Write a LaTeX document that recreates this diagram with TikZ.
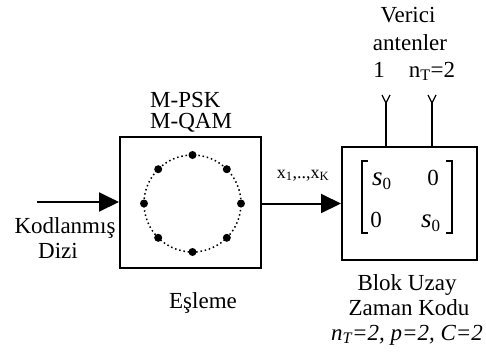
\documentclass[tikz,border=0pt]{standalone}
\usepackage{fontspec}
\setmainfont{Liberation Serif}
\usetikzlibrary{arrows.meta,calc}
\begin{document}
\begin{tikzpicture}[x=1pt,y=-1pt,
  txt/.style={inner sep=0pt, anchor=base, font=\fontsize{23}{27}\selectfont},
  boxs/.style={draw, line width=2pt, inner sep=0pt},
  conn/.style={line width=2pt, -{Triangle[length=20pt,width=19pt]}},
  cdot/.style={circle, fill, inner sep=0pt, minimum size=8pt},
  brk/.style={line width=1.3pt}]
\newcommand{\sz}{{\fontsize{27}{27}\selectfont\itshape s}\raisebox{-4pt}{\fontsize{17}{17}\selectfont 0}}
\useasboundingbox (0,0) rectangle (486,351);
% boxes
\node[boxs, minimum width=141pt, minimum height=131pt] (lbox) at (190.5,202.5) {};
\node[boxs, minimum width=135pt, minimum height=113pt] (rbox) at (409.5,203.5) {};
% constellation
\coordinate (cc) at (192.5,203.5);
\draw[line width=1.5pt, dash pattern=on 1.5pt off 2.8pt] (cc) circle[radius=48.5pt];
\foreach \a [count=\i] in {0,45,...,315}{
  \node[cdot] (d\i) at ($(cc)+(\a:48.5pt)$) {};
}
% input arrow
\coordinate (inp) at (37,202);
\draw[conn] (inp) -- (lbox.west |- inp);
% middle arrow
\draw[conn] (lbox.east |- rbox.center) -- (rbox.west);
\node[txt, font=\fontsize{18}{20}\selectfont] (xlab) at (303,178) {x\textsubscript{1},..,x\textsubscript{K}};
% antennas
\coordinate (a1) at (386,103);
\coordinate (a2) at (432,103);
\foreach \c in {a1,a2}{
  \draw[line width=2pt] (\c) -- (\c |- rbox.north);
  \draw[line width=1.3pt] (\c) -- ++(-4,-8);
  \draw[line width=1.3pt] (\c) -- ++(4,-8);
}
% matrix brackets
\draw[brk] (368,161) -- (362,161) -- (362,233) -- (368,233);
\draw[brk] (446,161) -- (452,161) -- (452,233) -- (446,233);
\node[txt, anchor=base west] (m11) at (372,185) {\sz};
\node[txt] (m12) at (433,185) {0};
\node[txt] (m21) at (376,227) {0};
\node[txt, anchor=base west] (m22) at (421,227) {\sz};
% labels
\node[txt] (ver) at (408,22) {Verici};
\node[txt] (ant) at (410,50) {antenler};
\node[txt] (one) at (379,77) {1};
\node[txt] (nt) at (432,77) {n\textsubscript{T}=2};
\node[txt, anchor=base west] (psk) at (150,107) {M-PSK};
\node[txt, anchor=base west] (qam) at (150,128) {M-QAM};
\node[txt] (kod) at (65,233) {Kodlanmış};
\node[txt] (diz) at (58,258) {Dizi};
\node[txt] (esl) at (203,308) {Eşleme};
\node[txt] (blok) at (407,290) {Blok Uzay};
\node[txt] (zam) at (409,315) {Zaman Kodu};
\node[txt] (par) at (407,340) {\textit{n\textsubscript{T}=2, p=2, C=2}};
\end{tikzpicture}
\end{document}
